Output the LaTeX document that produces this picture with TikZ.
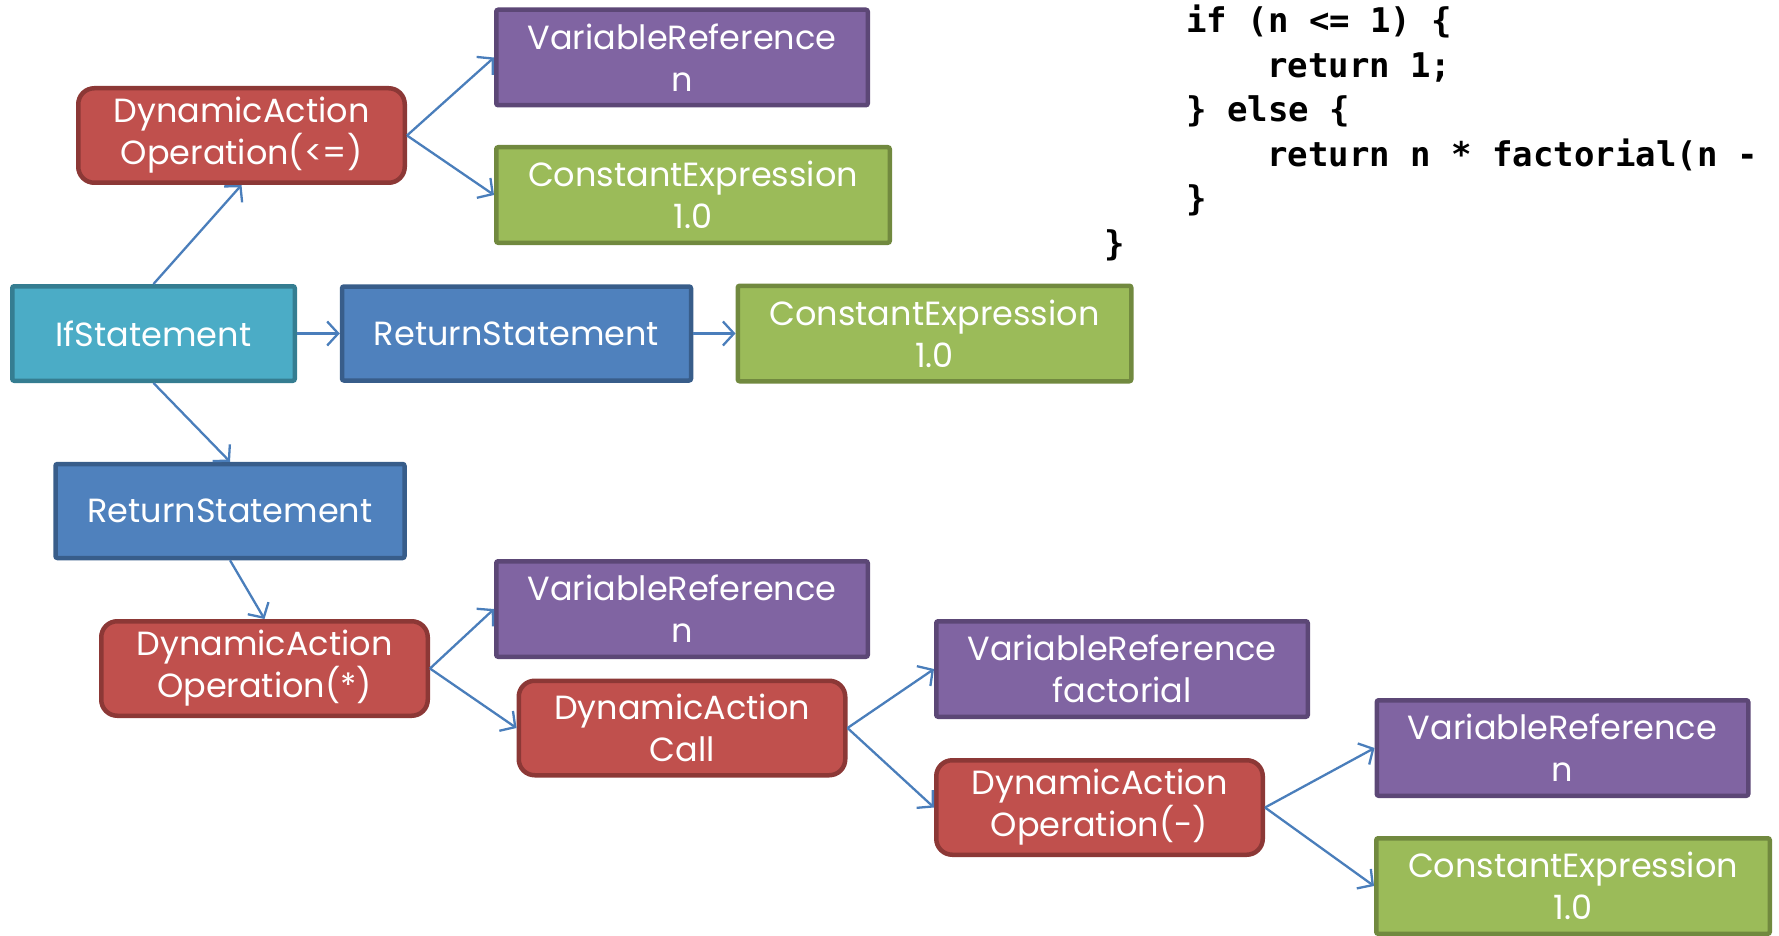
\documentclass[tikz,border=0pt]{standalone}
\usepackage{fontspec}
\setmainfont{Poppins}
\newfontfamily\codefont{DejaVu Sans Mono}
\usetikzlibrary{arrows.meta}
\definecolor{redF}{HTML}{C0504D}
\definecolor{redB}{HTML}{8C3836}
\definecolor{purF}{HTML}{8064A2}
\definecolor{purB}{HTML}{5C4776}
\definecolor{grnF}{HTML}{9BBB59}
\definecolor{grnB}{HTML}{71893F}
\definecolor{bluF}{HTML}{4F81BD}
\definecolor{bluB}{HTML}{385D8A}
\definecolor{aquF}{HTML}{4BACC6}
\definecolor{aquB}{HTML}{357D91}
\definecolor{arrC}{HTML}{4A7EBB}
\tikzset{
  box/.style={draw, line width=4.5pt, text=white, align=center,
    font=\fontsize{33.5}{42}\selectfont, inner sep=0pt, rounded corners=2pt},
  vrbox/.style={box, fill=purF, draw=purB, minimum width=371.5pt, minimum height=95.5pt},
  cebox/.style={box, fill=grnF, draw=grnB, minimum width=393.5pt, minimum height=95.5pt},
  dabox/.style={box, fill=redF, draw=redB, minimum width=326.5pt, minimum height=94.5pt, rounded corners=16pt},
  rsbox/.style={box, fill=bluF, draw=bluB, minimum width=349pt, minimum height=94pt},
  ifbox/.style={box, fill=aquF, draw=aquB, minimum width=282.5pt, minimum height=94.5pt},
  arr/.style={draw=arrC, line width=2.3pt, -{Straight Barb[length=11pt,width=24pt,line width=2.3pt]}},
  code/.style={anchor=base west, inner sep=0pt, font=\codefont\bfseries\fontsize{34}{44}\selectfont}
}
\begin{document}
\begin{tikzpicture}[x=1pt,y=-1pt]
\useasboundingbox (0,0) rectangle (1779,936);
% code
\node[code] (c1) at (1186,33) {if (n <= 1) \{};
\node[code] (c2) at (1267,77.5) {return 1;};
\node[code] (c3) at (1186,122) {\} else \{};
\node[code] (c4) at (1267,166.5) {return n * factorial(n -};
\node[code] (c5) at (1186,211) {\}};
\node[code] (c6) at (1104,255.5) {\}};
% nodes
\node[vrbox] (vr1) at (682,57.5) {VariableReference\\n};
\node[dabox] (da1) at (241.5,135.5) {DynamicAction\\Operation(<=)};
\node[cebox] (ce1) at (693,195) {ConstantExpression\\1.0};
\node[ifbox] (ifs) at (153.5,333.5) {IfStatement};
\node[rsbox] (rs1) at (516.5,333.5) {ReturnStatement};
\node[cebox] (ce2) at (934.5,333.5) {ConstantExpression\\1.0};
\node[rsbox] (rs2) at (230,511) {ReturnStatement};
\node[dabox] (da2) at (264.5,668.5) {DynamicAction\\Operation(*)};
\node[vrbox] (vr2) at (682,609) {VariableReference\\n};
\node[dabox] (da3) at (682,728) {DynamicAction\\Call};
\node[vrbox] (vr3) at (1122,669) {VariableReference\\factorial};
\node[dabox] (da4) at (1099.5,807.5) {DynamicAction\\Operation(-)};
\node[vrbox] (vr4) at (1562.5,748) {VariableReference\\n};
\node[cebox] (ce3) at (1573,886) {ConstantExpression\\1.0};
% connectors
\draw[arr] (ifs.north) -- (da1.south);
\draw[arr] (da1.east) -- (vr1.west);
\draw[arr] (da1.east) -- (ce1.west);
\draw[arr] (ifs.east) -- (rs1.west);
\draw[arr] (rs1.east) -- (ce2.west);
\draw[arr] (ifs.south) -- (rs2.north);
\draw[arr] (rs2.south) -- (da2.north);
\draw[arr] (da2.east) -- (vr2.west);
\draw[arr] (da2.east) -- (da3.west);
\draw[arr] (da3.east) -- (vr3.west);
\draw[arr] (da3.east) -- (da4.west);
\draw[arr] (da4.east) -- (vr4.west);
\draw[arr] (da4.east) -- (ce3.west);
\end{tikzpicture}
\end{document}
